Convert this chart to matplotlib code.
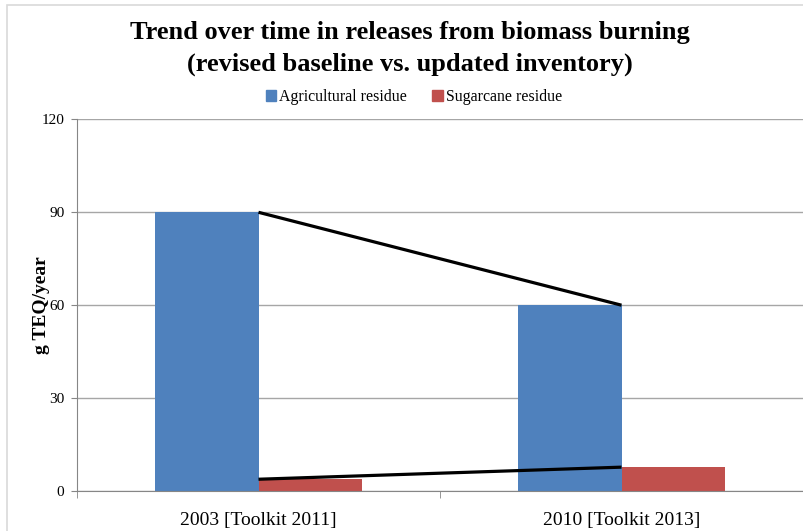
import matplotlib
matplotlib.use("Agg")
import matplotlib.pyplot as plt
from matplotlib.patches import Rectangle, Patch

plt.rcParams['font.family'] = ['Liberation Serif', 'DejaVu Serif']

categories = ['2003 [Toolkit 2011]', '2010 [Toolkit 2013]']
agricultural = [90, 60]
sugarcane = [3.8, 7.7]
yticks = [0, 30, 60, 90, 120]

blue = '#4f81bd'
red = '#c0504d'

fig = plt.figure(figsize=(8.04, 5.31), dpi=100)

# chart border
fig.patches.append(Rectangle((7 / 804, -0.1), 1.2, (531 - 5) / 531 + 0.1,
                             transform=fig.transFigure, fill=False,
                             edgecolor='#d9d9d9', linewidth=1.2))

ax = fig.add_axes([77 / 804, 40 / 531, 726 / 804, 371.6 / 531])

w = 0.284
xs = list(range(len(categories)))
ax.bar([x - w / 2 for x in xs], agricultural, width=w, color=blue, zorder=2)
ax.bar([x + w / 2 for x in xs], sugarcane, width=w, color=red, zorder=2)

# trend lines between the two periods
ax.plot(xs, agricultural, color='black', linewidth=2.3, zorder=3,
        solid_capstyle='butt')
ax.plot(xs, sugarcane, color='black', linewidth=2.3, zorder=3,
        solid_capstyle='butt')

ax.set_xlim(-0.5, len(categories) - 0.5)
ax.set_ylim(0, 120)
ax.set_yticks(yticks)
ax.set_yticklabels([str(v) for v in yticks], fontsize=11)
ax.yaxis.grid(True, color='#a6a6a6', linewidth=1)
ax.set_axisbelow(True)

ax.set_xticks(xs)
ax.set_xticklabels(categories, fontsize=14)
ax.tick_params(axis='x', length=0, pad=15)
ax.set_xticks([-0.5, 0.5, 1.5], minor=True)
ax.tick_params(axis='x', which='minor', length=5, color='#868686', direction='out')
ax.tick_params(axis='y', length=4, color='#868686', direction='out', pad=5)

for s in ['top', 'right']:
    ax.spines[s].set_visible(False)
for s in ['left', 'bottom']:
    ax.spines[s].set_color('#868686')

ax.set_ylabel('g TEQ/year', fontsize=14, fontweight='bold')
ax.yaxis.set_label_coords(-0.037, 0.5)

fig.text(0.51, 1 - 33 / 531, 'Trend over time in releases from biomass burning',
         ha='center', va='center', fontsize=19, fontweight='bold')
fig.text(0.51, 1 - 64 / 531, '(revised baseline vs. updated inventory)',
         ha='center', va='center', fontsize=19, fontweight='bold')

handles = [Patch(color=blue, label='Agricultural residue'),
           Patch(color=red, label='Sugarcane residue')]
fig.legend(handles=handles, loc='center', bbox_to_anchor=(414 / 804, 1 - 97 / 531),
           ncol=2, frameon=False, fontsize=11.4, handlelength=0.65, handleheight=0.65,
           handletextpad=0.2, columnspacing=1.6)

fig.savefig('out.png', dpi=100)
